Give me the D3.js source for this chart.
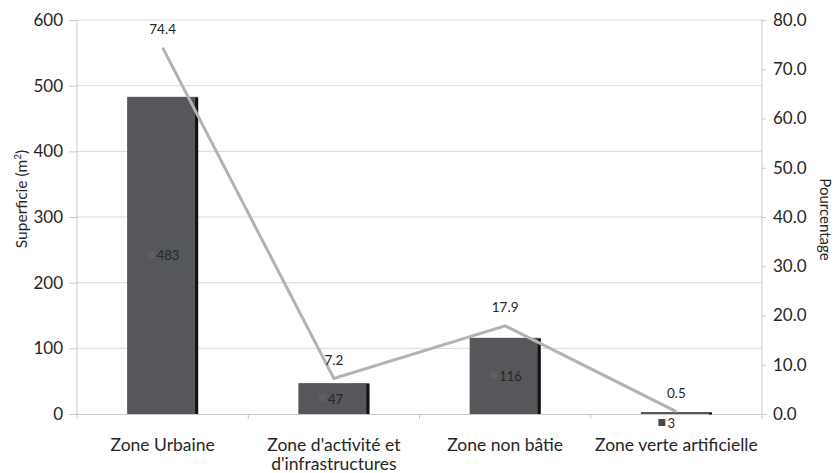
<!DOCTYPE html>
<html>
<head>
<meta charset="utf-8">
<script src="https://cdn.jsdelivr.net/npm/d3@7"></script>
<style>
  html, body { margin: 0; padding: 0; background: #fff; }
  svg { display: block; }
  text { font-family: Lato, "Open Sans", sans-serif; fill: #262626; }
</style>
</head>
<body>
<svg id="chart" width="836" height="473"></svg>
<script>
// Land-use categories (two-line labels where wrapped)
const categories = [
  ["Zone Urbaine"],
  ["Zone d'activité et", "d'infrastructures"],
  ["Zone non bâtie"],
  ["Zone verte artificielle"]
];
const superficie = [483, 47, 116, 3];        // bars, left axis (m²)
const pourcentage = [74.4, 7.2, 17.9, 0.5];  // line, right axis (%)
const leftTicks = [0, 100, 200, 300, 400, 500, 600];
const rightTicks = [0, 10, 20, 30, 40, 50, 60, 70, 80];

const svg = d3.select("#chart");
const mLeft = 77, mRight = 762, mTop = 20, mBottom = 414;

const pad = 1 - 71 / ((mRight - mLeft) / categories.length);
const x = d3.scaleBand().domain(d3.range(categories.length)).range([mLeft, mRight])
  .paddingInner(pad).paddingOuter(pad / 2);
const cx = i => x(i) + x.bandwidth() / 2;
const yL = d3.scaleLinear().domain([0, 600]).range([mBottom, mTop]);
const yR = d3.scaleLinear().domain([0, 80]).range([mBottom, mTop]);

// gridlines
svg.append("g").selectAll("line").data(leftTicks.slice(1)).join("line")
  .attr("x1", mLeft).attr("x2", mRight)
  .attr("y1", d => yL(d)).attr("y2", d => yL(d))
  .attr("stroke", "#d9d9d9").attr("stroke-width", 1);

// left axis
const gL = svg.append("g").attr("transform", `translate(${mLeft},0)`)
  .call(d3.axisLeft(yL).tickValues(leftTicks).tickSize(8).tickPadding(6));
gL.select(".domain").attr("stroke", "#c8c8c8").attr("d", `M0,${mTop}V${mBottom}`);
gL.selectAll(".tick line").attr("stroke", "#c8c8c8");
gL.selectAll(".tick text").style("font-size", "17px").style("font-family", "Lato, sans-serif").attr("fill", "#262626");

// right axis
const gR = svg.append("g").attr("transform", `translate(${mRight},0)`)
  .call(d3.axisRight(yR).tickValues(rightTicks).tickFormat(d3.format(".1f")).tickSize(4).tickPadding(7));
gR.select(".domain").attr("stroke", "#c8c8c8").attr("d", `M0,${mTop}V${mBottom}`);
gR.selectAll(".tick line").attr("stroke", "#c8c8c8");
gR.selectAll(".tick text").style("font-size", "17px").style("font-family", "Lato, sans-serif").attr("fill", "#262626");

// bottom baseline with category separators
svg.append("line").attr("x1", mLeft).attr("x2", mRight).attr("y1", mBottom + 0.5).attr("y2", mBottom + 0.5)
  .attr("stroke", "#c8c8c8");
svg.append("g").selectAll("line").data(d3.range(categories.length + 1)).join("line")
  .attr("x1", i => mLeft + i * x.step())
  .attr("x2", i => mLeft + i * x.step())
  .attr("y1", mBottom).attr("y2", mBottom + 5)
  .attr("stroke", "#c8c8c8");

// bars with a darker side edge
const bw = x.bandwidth();
const bars = svg.append("g");
superficie.forEach((v, i) => {
  const x0 = x(i), y0 = yL(v), h = mBottom - y0;
  bars.append("rect").attr("x", x0).attr("y", y0).attr("width", bw).attr("height", Math.max(h, 1.5))
    .attr("fill", "#55575a");
  bars.append("rect").attr("x", x0 + bw - 3).attr("y", y0 + 1).attr("width", 3).attr("height", Math.max(h - 1, 1.5))
    .attr("fill", "#111");
});

// bar value labels with small key squares
superficie.forEach((v, i) => {
  const inside = v > 20;
  const ly = inside ? (yL(v) + mBottom) / 2 + 5 : mBottom + 14;
  const tx = cx(i) + (inside ? -6 : -9);
  svg.append("rect").attr("x", tx - 9).attr("y", ly - 9).attr("width", 7).attr("height", 7)
    .attr("fill", inside ? "#5d5f62" : "#4a4a4a");
  svg.append("text").attr("x", tx).attr("y", ly).text(v)
    .style("font-size", "13px");
});

// percentage line
const line = d3.line().x((d, i) => cx(i)).y(d => yR(d));
svg.append("path").datum(pourcentage).attr("d", line)
  .attr("fill", "none").attr("stroke", "#b3b3b3").attr("stroke-width", 3);

// percentage labels
pourcentage.forEach((v, i) => {
  svg.append("text").attr("x", cx(i)).attr("y", yR(v) - 14)
    .attr("text-anchor", "middle").text(d3.format(".1f")(v))
    .style("font-size", "13.5px");
});

// category labels
categories.forEach((lines, i) => {
  const t = svg.append("text").attr("x", cx(i)).attr("y", 451).attr("text-anchor", "middle")
    .style("font-size", "17.5px");
  lines.forEach((s, k) => t.append("tspan").attr("x", cx(i)).attr("dy", k ? 19 : 0).text(s));
});

// axis titles
const tl = svg.append("text").attr("transform", `translate(27,199) rotate(-90)`)
  .attr("text-anchor", "middle").style("font-size", "15.5px");
tl.append("tspan").text("Superficie (m");
tl.append("tspan").attr("dy", -6).style("font-size", "10px").text("2");
tl.append("tspan").attr("dy", 6).text(")");

svg.append("text").attr("transform", `translate(820,219.5) rotate(90)`)
  .attr("text-anchor", "middle").style("font-size", "15px").text("Pourcentage");
</script>
</body>
</html>
